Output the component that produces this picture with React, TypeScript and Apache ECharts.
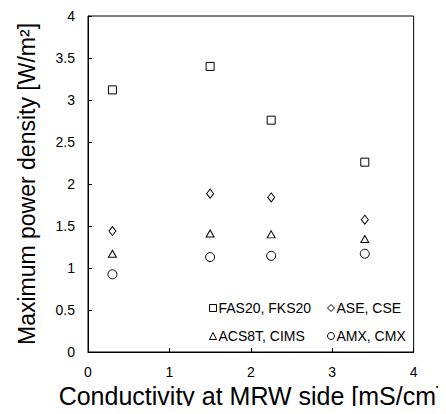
import React, { useEffect, useRef } from "react";
import * as echarts from "echarts";

const conductivity = [0.3, 1.5, 2.25, 3.4];
const fasFks = [3.12, 3.4, 2.76, 2.26];
const aseCse = [1.44, 1.885, 1.84, 1.575];
const acsCims = [1.17, 1.41, 1.4, 1.345];
const amxCmx = [0.925, 1.13, 1.145, 1.17];
const seriesNames = ["FAS20, FKS20", "ASE, CSE", "ACS8T, CIMS", "AMX, CMX"];
const yTicks = [0, 0.5, 1, 1.5, 2, 2.5, 3, 3.5, 4];

const FONT = "'Liberation Sans', Arial, sans-serif";

export default function App() {
  const ref = useRef<HTMLDivElement>(null);
  useEffect(() => {
    if (!ref.current) return;
    const chart = echarts.init(ref.current, undefined, { renderer: "svg" });
    const sets = [fasFks, aseCse, acsCims, amxCmx];
    const symbols = ["rect", "diamond", "triangle", "circle"];
    const sizes = [[8, 8], [7, 9], [8, 7], [9, 9]];
    const legendPos = [
      { left: 209, top: 301 },
      { left: 327, top: 301 },
      { left: 209, top: 329 },
      { left: 327, top: 329 },
    ];
    chart.setOption({
      animation: false,
      textStyle: { fontFamily: FONT },
      grid: {
        left: 88,
        right: 22,
        top: 16,
        bottom: 62,
        show: true,
        borderColor: "#000",
        borderWidth: 1,
        backgroundColor: "transparent",
      },
      legend: seriesNames.map((n, i) => ({
        data: [{ name: n, icon: symbols[i] }],
        left: legendPos[i].left,
        top: legendPos[i].top,
        itemWidth: 7,
        itemHeight: 7,
        padding: 0,
        textStyle: { fontSize: 14, color: "#000", fontFamily: FONT, padding: [0, 0, 0, -3] },
        itemStyle: { color: "#fff", borderColor: "#000", borderWidth: 1 },
        selectedMode: false,
      })),
      xAxis: {
        type: "value",
        min: 0,
        max: 4,
        interval: 1,
        name: "Conductivity at MRW side [mS/cm]",
        nameLocation: "middle",
        nameGap: 40,
        nameTextStyle: { fontSize: 25, color: "#000", fontFamily: FONT, verticalAlign: "middle" },
        axisLine: { show: true, lineStyle: { color: "#000", width: 1 } },
        axisTick: { show: true, inside: true, length: 4, lineStyle: { color: "#000" } },
        axisLabel: { fontSize: 14, color: "#000", margin: 13, fontFamily: FONT },
        splitLine: { show: false },
      },
      yAxis: {
        type: "value",
        min: 0,
        max: 4,
        interval: 0.5,
        name: "Maximum power density [W/m²]",
        nameLocation: "middle",
        nameGap: 50,
        nameTextStyle: { fontSize: 23, color: "#000", fontFamily: FONT },
        axisLine: { show: true, lineStyle: { color: "#000", width: 1 } },
        axisTick: { show: true, inside: true, length: 4, lineStyle: { color: "#000" } },
        axisLabel: {
          fontSize: 14,
          color: "#000",
          margin: 13,
          fontFamily: FONT,
          formatter: (v: number) => (yTicks.includes(v) ? String(v) : ""),
        },
        splitLine: { show: false },
      },
      series: sets.map((vals, i) => ({
        name: seriesNames[i],
        type: "scatter",
        symbol: symbols[i],
        symbolSize: sizes[i],
        data: conductivity.map((x, j) => [x, vals[j]]),
        itemStyle: { color: "#fff", borderColor: "#000", borderWidth: 1, opacity: 1 },
      })),
    });
    return () => chart.dispose();
  }, []);
  return <div ref={ref} style={{ width: 446, height: 414, margin: -8 }} />;
}
